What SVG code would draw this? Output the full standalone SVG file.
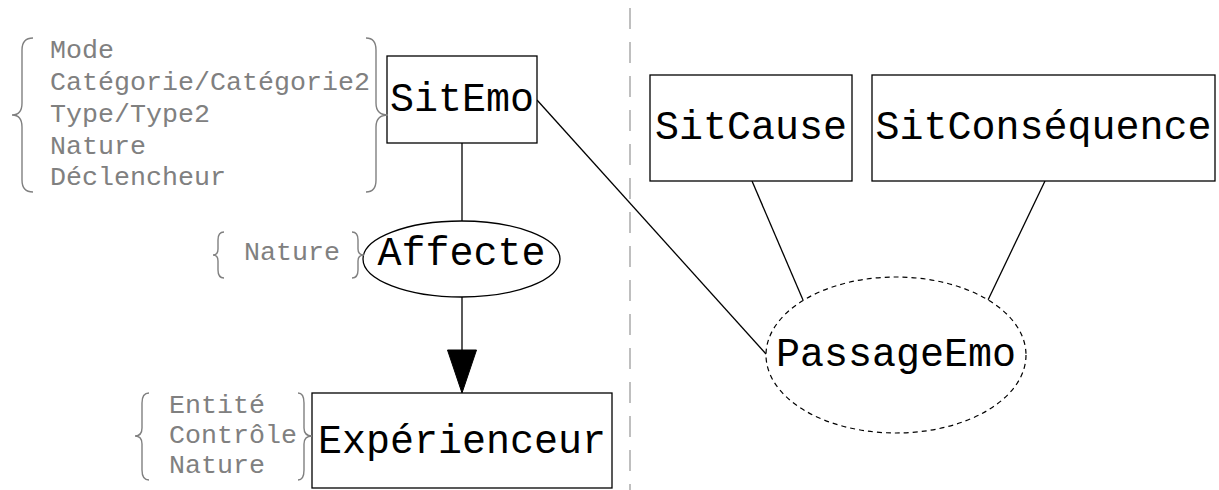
<svg xmlns="http://www.w3.org/2000/svg" width="1219" height="490" viewBox="0 0 1219 490">
<style>
.node{fill:#fff;stroke:#000;stroke-width:1.3}
.lbl{font-family:"Liberation Mono","Courier New",monospace;font-size:40px;fill:#000;text-anchor:middle}
.attr{font-family:"Liberation Mono","Courier New",monospace;font-size:26.67px;fill:#808080}
.brace{fill:none;stroke:#808080;stroke-width:1.4}
.edge{fill:none;stroke:#000;stroke-width:1.3}
</style>
<defs>
<marker id="arrow" markerUnits="userSpaceOnUse" markerWidth="30" markerHeight="44" refX="15" refY="43" orient="auto-start-reverse" viewBox="0 0 30 44">
<path d="M0,0 L29,0 L14.5,43 Z" fill="#000"/>
</marker>
</defs>
<line x1="630" y1="8" x2="630" y2="490" stroke="#b0b0b0" stroke-width="1.6" stroke-dasharray="21,13"/>
<g id="connectors">
<line class="edge" x1="462" y1="143" x2="462" y2="221"/>
<line class="edge" x1="462" y1="297" x2="462" y2="350"/>
<path d="M447.5,350 L476.5,350 L462,393 Z" fill="#000" stroke="#000" stroke-width="1"/>
<line class="edge" x1="537" y1="100" x2="766" y2="354"/>
<line class="edge" x1="752" y1="181" x2="803" y2="300"/>
<line class="edge" x1="1045" y1="181" x2="988" y2="300"/>
</g>
<g id="SitEmo">
<rect class="node" x="387" y="56" width="150" height="87"/>
<text class="lbl" x="462" y="111">SitEmo</text>
</g>
<g id="SitEmo-attrs">
<path class="brace" d="M33,38 Q22,38 22,50 L22,103 Q22,115 12,115 Q22,115 22,127 L22,180 Q22,192 33,192"/>
<path class="brace" d="M366,38 Q376,38 376,50 L376,103 Q376,115 388,115 Q376,115 376,127 L376,180 Q376,192 366,192"/>
<text class="attr" x="50" y="58">Mode</text>
<text class="attr" x="50" y="90">Catégorie/Catégorie2</text>
<text class="attr" x="50" y="122">Type/Type2</text>
<text class="attr" x="50" y="154">Nature</text>
<text class="attr" x="50" y="185">Déclencheur</text>
</g>
<g id="Affecte">
<ellipse class="node" cx="461.5" cy="259" rx="98.5" ry="38"/>
<text class="lbl" x="461.5" y="265">Affecte</text>
</g>
<g id="Affecte-attrs">
<path class="brace" d="M224,232 Q218,232 218,240 L218,249 Q218,255 213,255 Q218,255 218,261 L218,270 Q218,278 224,278"/>
<path class="brace" d="M352,232 Q358,232 358,240 L358,249 Q358,255 364,255 Q358,255 358,261 L358,270 Q358,278 352,278"/>
<text class="attr" x="244" y="260">Nature</text>
</g>
<g id="Experienceur">
<rect class="node" x="312" y="393" width="300" height="95"/>
<text class="lbl" x="462" y="453">Expérienceur</text>
</g>
<g id="Experienceur-attrs">
<path class="brace" d="M149,393 Q142,393 142,403 L142,428 Q142,436 135,436 Q142,436 142,444 L142,470 Q142,480 149,480"/>
<path class="brace" d="M298,393 Q304,393 304,403 L304,428 Q304,436 312,436 Q304,436 304,444 L304,470 Q304,480 298,480"/>
<text class="attr" x="169" y="413">Entité</text>
<text class="attr" x="169" y="443">Contrôle</text>
<text class="attr" x="169" y="473">Nature</text>
</g>
<g id="SitCause">
<rect class="node" x="650" y="75" width="202" height="106"/>
<text class="lbl" x="751" y="139">SitCause</text>
</g>
<g id="SitConsequence">
<rect class="node" x="872" y="75" width="343" height="106"/>
<text class="lbl" x="1043.5" y="139">SitConséquence</text>
</g>
<g id="PassageEmo">
<ellipse cx="896" cy="355" rx="130" ry="78" fill="#fff" stroke="#000" stroke-width="1.2" stroke-dasharray="5,4"/>
<text class="lbl" x="896" y="366">PassageEmo</text>
</g>
</svg>
